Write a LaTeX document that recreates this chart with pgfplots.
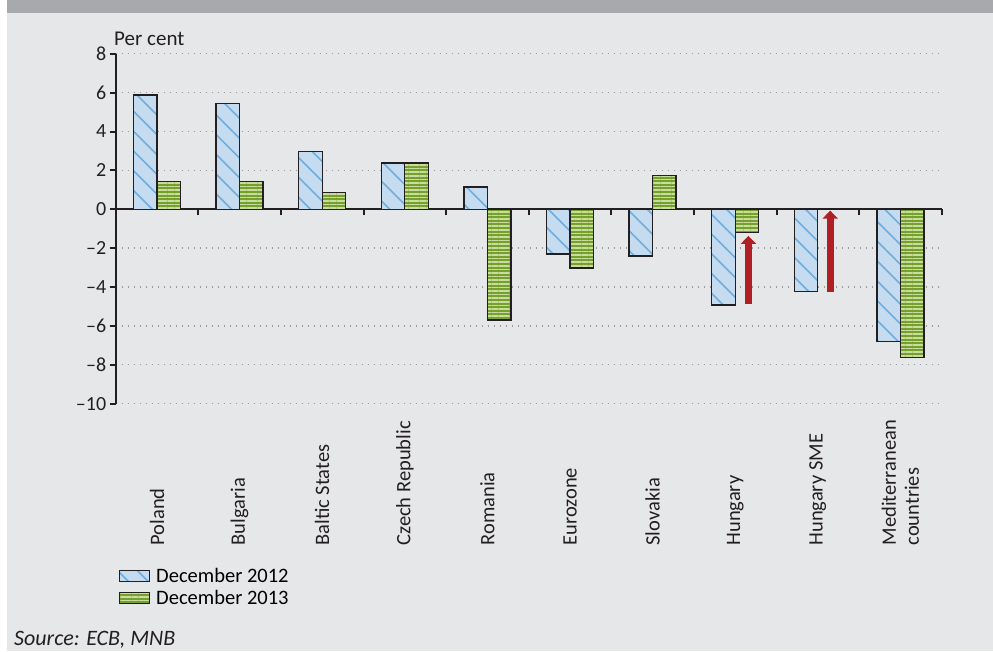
\documentclass[border=0pt]{standalone}
\usepackage{pgfplots}
\pgfplotsset{compat=1.18}
\usetikzlibrary{patterns.meta,arrows.meta}
\usepackage{fontspec}
\setmainfont{Carlito}
\definecolor{bg}{HTML}{E6E7E8}
\definecolor{band}{HTML}{A7A9AC}
\definecolor{axisc}{HTML}{231F20}
\definecolor{lblue}{HTML}{C5DCF0}
\definecolor{dblue}{HTML}{6FADDC}
\definecolor{dgreen}{HTML}{76A02E}
\definecolor{lgreen}{HTML}{C8DC9E}
\definecolor{arrred}{HTML}{B01F24}
\definecolor{gridc}{HTML}{9A9B9D}
\newcommand{\fs}{\fontsize{20.5}{23}\selectfont}
\newcommand{\fsy}{\fontsize{20}{23}\selectfont}
\pgfplotsset{mylegend/.style={legend image code/.code={\draw[##1, line width=1pt] (0pt,-5.5pt) rectangle (30pt,5.5pt);}}}
\begin{document}
\begin{tikzpicture}[x=1pt,y=1pt]
\fill[white] (0,0) rectangle (993,651);
\fill[bg] (7,0) rectangle (993,651);
\fill[band] (7,638) rectangle (993,651);
\begin{axis}[
  at={(115.7pt,247.4pt)}, anchor=south west, scale only axis,
  width=826pt, height=349.8pt,
  xmin=-0.5, xmax=9.5, ymin=-10, ymax=8,
  axis x line=middle, axis y line=left,
  axis line style={-, line width=2pt, draw=axisc},
  xtick={-0.5,0.5,...,9.5}, xticklabels={},
  ytick={-10,-8,...,8},
  yticklabels={\textendash10,\textendash8,\textendash6,\textendash4,\textendash2,0,2,4,6,8},
  tick align=outside,
  major tick length=6pt,
  tick style={line width=2pt, draw=axisc},
  ymajorgrids,
  grid style={draw=gridc, line width=1.3pt, dash pattern=on 1.4pt off 4.6pt},
  ticklabel style={font=\fsy, text=axisc},
  ybar=0pt, bar width=23.5pt,
  clip=false,
  legend style={at={(axis description cs:0.004,-0.466)}, anchor=north west, draw=none, fill=none, font=\fs, inner sep=0pt, row sep=4.5pt, legend cell align=left,
    nodes={inner sep=1pt}, /tikz/every odd column/.style={column sep=5pt}},
]
\addplot[draw=axisc, line width=1.3pt, fill=lblue,
  postaction={pattern={Lines[angle=-45,distance=14pt,line width=1.6pt]}, pattern color=dblue},
  mylegend]
  coordinates {(0,5.88) (1,5.45) (2,2.96) (3,2.38) (4,1.15) (5,-2.3) (6,-2.4) (7,-4.93) (8,-4.24) (9,-6.81)};
\addlegendentry{December 2012}
\addplot[draw=axisc, line width=1.3pt, fill=dgreen,
  postaction={pattern={Lines[angle=0,distance=3.6pt,line width=1.6pt]}, pattern color=lgreen},
  mylegend]
  coordinates {(0,1.42) (1,1.42) (2,0.87) (3,2.38) (4,-5.7) (5,-3.02) (6,1.72) (7,-1.18) (9,-7.64)};
\addlegendentry{December 2013}
\draw[arrred, line width=7pt, -{Triangle[width=15pt,length=8pt]}] (axis cs:7.16,-4.89) -- (axis cs:7.16,-1.37);
\draw[arrred, line width=7pt, -{Triangle[width=15pt,length=8pt]}] (axis cs:8.15,-4.27) -- (axis cs:8.15,-0.07);
\end{axis}
\begin{axis}[
  at={(115.7pt,102pt)}, anchor=south west, scale only axis,
  width=826pt, height=20pt,
  xmin=-0.5, xmax=9.5, ymin=0, ymax=1,
  axis x line=bottom, axis y line=none,
  x axis line style={draw=none},
  xtick={0,...,9}, major tick length=0pt,
  xticklabels={Poland,Bulgaria,Baltic States,Czech Republic,Romania,Eurozone,Slovakia,Hungary,Hungary SME,{Mediterranean\\countries}},
  xticklabel style={rotate=90, anchor=west, font=\fs, text=axisc, align=left},
]
\addplot[draw=none] coordinates {(0,0)};
\end{axis}
\node[anchor=base west, font=\fontsize{21}{24}\selectfont, text=axisc, inner sep=0pt] at (114,605) {Per cent};
\node[anchor=base west, font=\fontsize{22}{25}\selectfont\itshape, text=axisc, inner sep=0pt] at (14,6) {Source: ECB, MNB};
\pgfresetboundingbox
\path (0,0) rectangle (993,651);
\end{tikzpicture}
\end{document}
